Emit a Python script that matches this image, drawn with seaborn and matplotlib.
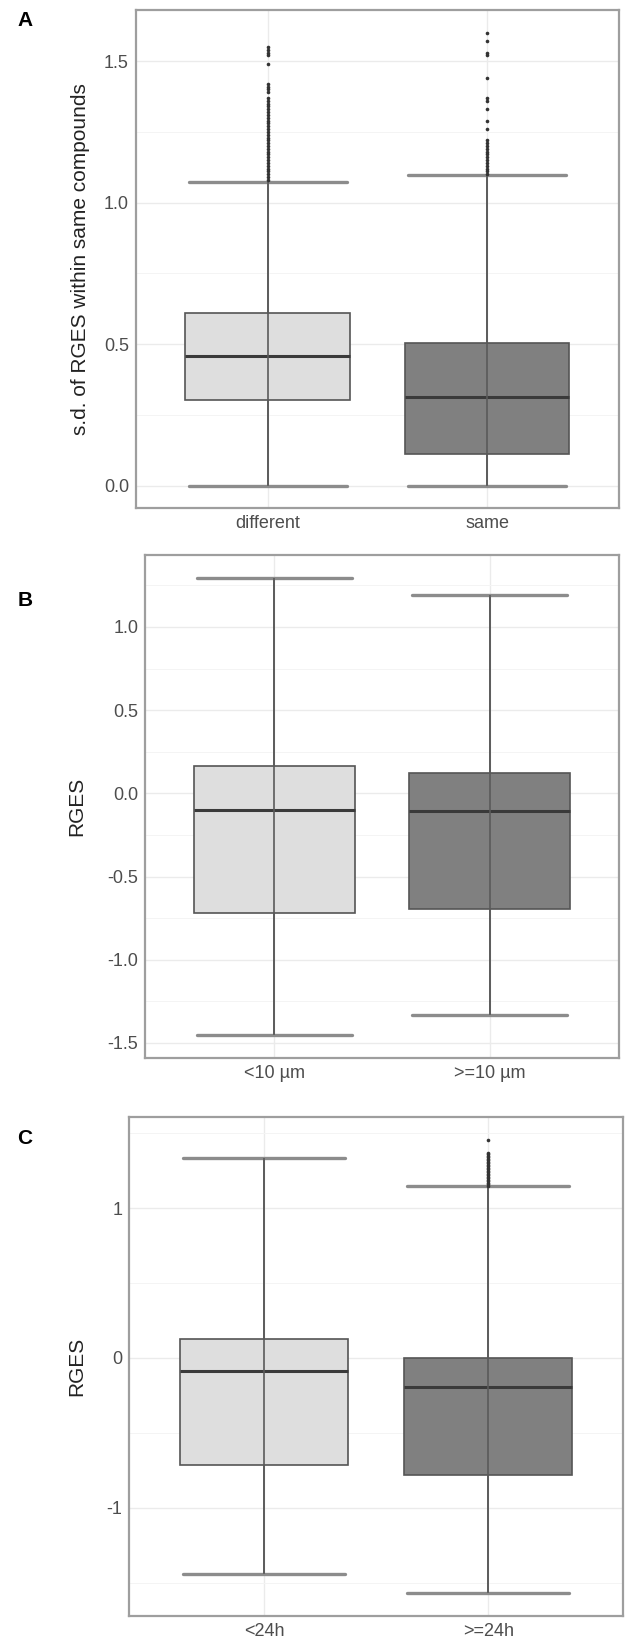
import numpy as np
import pandas as pd
import matplotlib
matplotlib.use("Agg")
import matplotlib.pyplot as plt
from matplotlib.ticker import MultipleLocator
import seaborn as sns

# --- Data (box summaries + outliers) ---

# A. s.d. of RGES within same compounds
a_groups = ["different", "same"]
a_low = [0.0, 0.0]
a_q1 = [0.302, 0.112]
a_median = [0.457, 0.314]
a_q3 = [0.611, 0.504]
a_high = [1.074, 1.098]
a_out_different = [1.08, 1.09, 1.10, 1.11, 1.12, 1.13, 1.14, 1.15, 1.16, 1.17,
                   1.18, 1.19, 1.20, 1.21, 1.22, 1.23, 1.24, 1.25, 1.26, 1.27,
                   1.28, 1.29, 1.30, 1.31, 1.32, 1.33, 1.34, 1.35, 1.36, 1.37,
                   1.39, 1.40, 1.41, 1.42, 1.49, 1.52, 1.53, 1.54, 1.55]
a_out_same = [1.10, 1.11, 1.12, 1.13, 1.14, 1.15, 1.16, 1.17, 1.18, 1.19,
              1.20, 1.21, 1.22, 1.26, 1.29, 1.33, 1.36, 1.37, 1.44, 1.52,
              1.53, 1.57, 1.60]
a_yticks = [0.0, 0.5, 1.0, 1.5]
a_yticklabels = ["0.0", "0.5", "1.0", "1.5"]

# B. RGES by dose
b_groups = ["<10 \u00b5m", ">=10 \u00b5m"]
b_low = [-1.454, -1.334]
b_q1 = [-0.719, -0.694]
b_median = [-0.102, -0.108]
b_q3 = [0.163, 0.122]
b_high = [1.292, 1.193]
b_yticks = [-1.5, -1.0, -0.5, 0.0, 0.5, 1.0]
b_yticklabels = ["-1.5", "-1.0", "-0.5", "0.0", "0.5", "1.0"]

# C. RGES by treatment time
c_groups = ["<24h", ">=24h"]
c_low = [-1.443, -1.567]
c_q1 = [-0.713, -0.780]
c_median = [-0.086, -0.191]
c_q3 = [0.124, 0.0]
c_high = [1.337, 1.146]
c_out_late = [1.15, 1.16, 1.17, 1.18, 1.19, 1.20, 1.21, 1.22, 1.23, 1.24,
              1.25, 1.26, 1.27, 1.28, 1.29, 1.30, 1.31, 1.32, 1.33, 1.34,
              1.35, 1.36, 1.37, 1.457]
c_yticks = [-1, 0, 1]
c_yticklabels = ["-1", "0", "1"]

BOX_FILLS = ["#dedede", "#808080"]
TEXT_GREY = "#4d4d4d"


def draw_panel(ax, groups, low, q1, med, q3, high, outliers, yticks, yticklabels,
               minor_step, ylabel, ylabel_x):
    # five-number data per group -> seaborn computes the same box
    rows = []
    for g, lo, a, m, b, hi in zip(groups, low, q1, med, q3, high):
        for v in (lo, a, m, b, hi):
            rows.append((g, v))
    box_df = pd.DataFrame(rows, columns=["group", "value"])

    sns.boxplot(data=box_df, x="group", y="value", hue="group", order=groups,
                hue_order=groups, palette=BOX_FILLS, legend=False, width=0.75,
                whis=(0, 100), saturation=1, linecolor="#555555", linewidth=1.2,
                capwidths=0.72,
                medianprops=dict(color="#3a3a3a", linewidth=2.2),
                whiskerprops=dict(color="#5a5a5a", linewidth=1.2),
                capprops=dict(color="#8c8c8c", linewidth=2.4),
                ax=ax)

    # whisker line runs through the box, like the errorbar layer in the original
    ax.vlines(np.arange(len(groups)), low, high, colors="#5a5a5a",
              linewidth=1.2, zorder=2.6)

    out_rows = [(g, v) for g, vals in outliers.items() for v in vals]
    if out_rows:
        out_df = pd.DataFrame(out_rows, columns=["group", "value"])
        sns.stripplot(data=out_df, x="group", y="value", order=groups,
                      jitter=False, color="#333333", size=2.6, linewidth=0,
                      ax=ax, zorder=3)

    all_vals = list(low) + list(high) + [v for vals in outliers.values() for v in vals]
    lo, hi = min(all_vals), max(all_vals)
    pad = 0.05 * (hi - lo)
    ax.set_ylim(lo - pad, hi + pad)
    ax.set_xlim(-0.6, len(groups) - 0.4)

    ax.set_yticks(yticks)
    ax.set_yticklabels(yticklabels)
    ax.yaxis.set_minor_locator(MultipleLocator(minor_step))
    ax.set_xticks(range(len(groups)))
    ax.set_xticklabels(groups)

    ax.set_axisbelow(True)
    ax.grid(False)
    ax.grid(which="major", axis="both", color="#ebebeb", linewidth=1.0)
    ax.grid(which="minor", axis="y", color="#f4f4f4", linewidth=0.7)
    ax.tick_params(which="major", length=3, width=0.8, color="#555555",
                   labelsize=13, labelcolor=TEXT_GREY, pad=2)
    ax.tick_params(which="minor", length=0)
    for s in ax.spines.values():
        s.set_visible(True)
        s.set_color("#9e9e9e")
        s.set_linewidth(1.6)

    ax.set_xlabel("")
    ax.set_ylabel(ylabel, fontsize=15, color="#222222")
    ax.yaxis.set_label_coords(ylabel_x, 0.5)


sns.set_theme(style="whitegrid")
plt.rcParams["font.family"] = ["Liberation Sans", "DejaVu Sans"]

fig = plt.figure(figsize=(6.3, 16.41), dpi=100)

ax_a = fig.add_axes([0.2156, 0.6903, 0.7665, 0.3035])
ax_b = fig.add_axes([0.2308, 0.3552, 0.7513, 0.3063])
ax_c = fig.add_axes([0.2054, 0.0155, 0.7830, 0.3039])

draw_panel(ax_a, a_groups, a_low, a_q1, a_median, a_q3, a_high,
           {"different": a_out_different, "same": a_out_same},
           a_yticks, a_yticklabels, 0.25,
           "s.d. of RGES within same compounds", -0.095)
draw_panel(ax_b, b_groups, b_low, b_q1, b_median, b_q3, b_high,
           {}, b_yticks, b_yticklabels, 0.25, "RGES", -0.125)
draw_panel(ax_c, c_groups, c_low, c_q1, c_median, c_q3, c_high,
           {">=24h": c_out_late}, c_yticks, c_yticklabels, 0.5, "RGES", -0.087)

for label, y in [("A", 20), ("B", 600), ("C", 1139)]:
    fig.text(25 / 630, 1 - y / 1641, label, fontsize=15, fontweight="bold",
             ha="center", va="center", color="black")

fig.savefig("out.png", dpi=100)
